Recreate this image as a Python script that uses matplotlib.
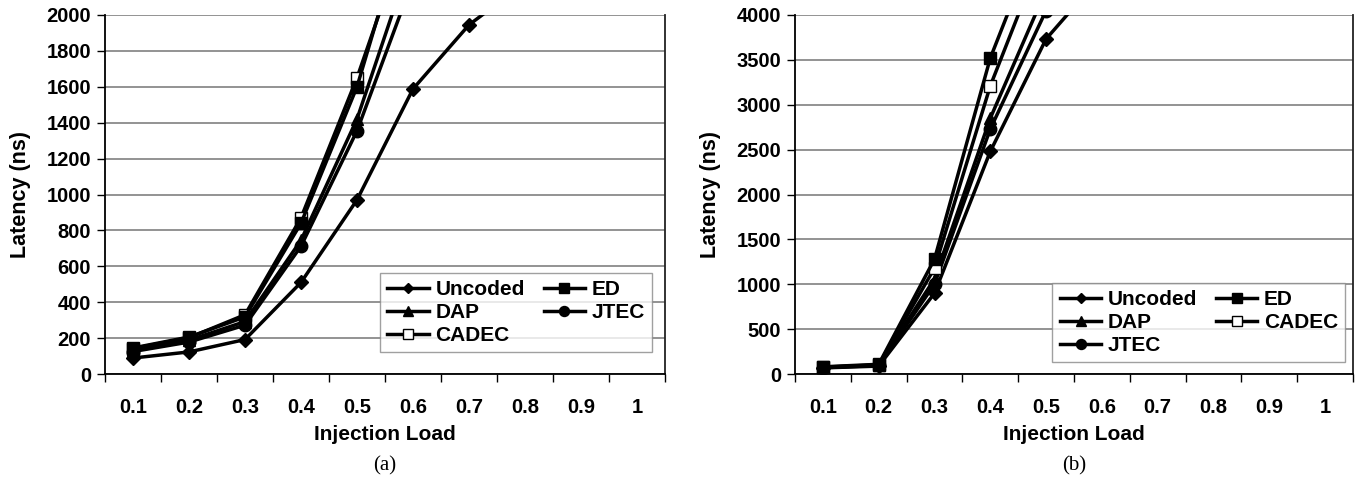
import matplotlib
matplotlib.use("Agg")
import matplotlib.pyplot as plt
import numpy as np

loads = ["0.1", "0.2", "0.3", "0.4", "0.5", "0.6", "0.7", "0.8", "0.9", "1"]

# (a)
a_uncoded = [89, 123, 192, 510, 970, 1588, 1945, 2180]
a_ed = [145, 206, 318, 840, 1600, 2650]
a_dap = [132, 188, 292, 745, 1420, 2350]
a_jtec = [125, 178, 272, 712, 1355, 2195]
a_cadec = [142, 202, 330, 870, 1650, 2550]

# (b)
b_uncoded = [68, 88, 900, 2480, 3733, 4445]
b_ed = [80, 108, 1280, 3520, 5100]
b_dap = [74, 98, 1060, 2850, 4280]
b_jtec = [70, 95, 1000, 2730, 4050]
b_cadec = [76, 102, 1180, 3210, 4790]

plt.rcParams['font.family'] = ['Liberation Sans', 'DejaVu Sans']
plt.rcParams['font.weight'] = 'bold'

W, H = 1358, 480
fig = plt.figure(figsize=(W / 100, H / 100), dpi=100)

styles = {
    "Uncoded": dict(marker="D", ms=7, mfc="black", mec="black"),
    "ED": dict(marker="s", ms=8.5, mfc="black", mec="black"),
    "DAP": dict(marker="^", ms=9, mfc="black", mec="black"),
    "JTEC": dict(marker="o", ms=9, mfc="black", mec="black"),
    "CADEC": dict(marker="s", ms=9, mfc="white", mec="black", mew=1.0),
}


def panel(rect, series, ymax, ystep, order, caption, leg_anchor):
    ax = fig.add_axes(rect)
    handles = {}
    for name, vals in series:
        x = np.arange(len(vals))
        st = styles[name]
        (h,) = ax.plot(x, vals, color="black", lw=2.5, label=name, zorder=3, **st)
        handles[name] = h
    ax.set_xlim(-0.5, len(loads) - 0.5)
    ax.set_ylim(0, ymax)
    ax.set_yticks(np.arange(0, ymax + 1, ystep))
    ax.yaxis.grid(True, color="#808080", lw=1.2)
    ax.set_axisbelow(True)
    ax.set_xticks(np.arange(len(loads) + 1) - 0.5)
    ax.set_xticklabels([])
    ax.set_xticks(np.arange(len(loads)), minor=True)
    ax.set_xticklabels(loads, minor=True, fontsize=14.5, fontweight="bold")
    ax.tick_params(axis="x", which="minor", length=0, pad=17)
    ax.tick_params(axis="x", which="major", length=6, direction="out", width=1)
    ax.tick_params(axis="y", length=6, direction="out", width=1, labelsize=14.5, pad=4)
    for lab in ax.get_yticklabels():
        lab.set_fontweight("bold")
    for s in ["left", "bottom"]:
        ax.spines[s].set_color("black")
        ax.spines[s].set_linewidth(1.3)
    ax.spines["right"].set_color("#222222")
    ax.spines["right"].set_linewidth(1.3)
    ax.spines["top"].set_visible(False)
    ax.set_xlabel("Injection Load", fontsize=15, fontweight="bold", labelpad=6)
    ax.set_ylabel("Latency (ns)", fontsize=15.5, fontweight="bold", labelpad=11)
    leg = ax.legend([handles[n] for n in order], order, ncol=2, loc="lower right",
                    bbox_to_anchor=leg_anchor, borderaxespad=0, frameon=True, fancybox=False,
                    edgecolor="#888888", handlelength=2.0,
                    handletextpad=0.3, columnspacing=0.9, labelspacing=0.18,
                    borderpad=0.35, markerscale=0.8, prop={"weight": "bold", "size": 15})
    leg.get_frame().set_linewidth(1.0)
    ax.text(0.5, -0.255, caption, transform=ax.transAxes, ha="center", va="center",
            fontsize=15, family="Liberation Serif", fontweight="normal")
    return ax


bottom = 1 - 374 / H
height = (374 - 15) / H

panel([105 / W, bottom, 560 / W, height],
      [("Uncoded", a_uncoded), ("DAP", a_dap), ("JTEC", a_jtec), ("CADEC", a_cadec), ("ED", a_ed)],
      2000, 200, ["Uncoded", "DAP", "CADEC", "ED", "JTEC"], "(a)", (0.977, 0.061))

panel([795 / W, bottom, 558 / W, height],
      [("Uncoded", b_uncoded), ("DAP", b_dap), ("JTEC", b_jtec), ("CADEC", b_cadec), ("ED", b_ed)],
      4000, 500, ["Uncoded", "DAP", "JTEC", "ED", "CADEC"], "(b)", (0.986, 0.033))

fig.savefig("out.png", dpi=100)
